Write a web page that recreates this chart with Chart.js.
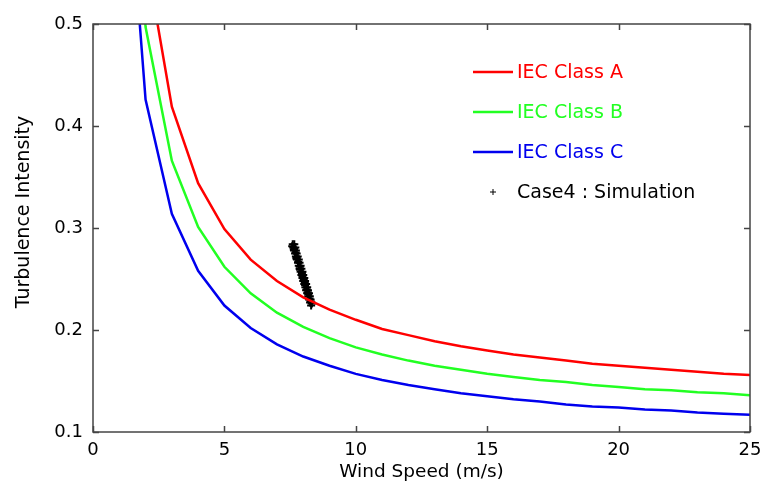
<!DOCTYPE html>
<html>
<head>
<meta charset="utf-8">
<script src="https://cdn.jsdelivr.net/npm/chart.js@4.4.1/dist/chart.umd.min.js"></script>
<style>
html,body{margin:0;padding:0;background:#fff;}
#wrap{width:763px;height:489px;position:relative;}
</style>
</head>
<body>
<div id="wrap"><canvas id="c" width="763" height="489"></canvas></div>
<script>
// Wind speeds (m/s)
const windSpeed = [1,2,3,4,5,6,7,8,9,10,11,12,13,14,15,16,17,18,19,20,21,22,23,24,25];
// Turbulence intensity per IEC class
const classA = [1.016,0.568,0.419,0.344,0.299,0.269,0.248,0.232,0.220,0.210,0.201,0.195,0.189,0.184,0.180,0.176,0.173,0.170,0.167,0.165,0.163,0.161,0.159,0.157,0.156];
const classB = [0.889,0.497,0.366,0.301,0.262,0.236,0.217,0.203,0.192,0.183,0.176,0.170,0.165,0.161,0.157,0.154,0.151,0.149,0.146,0.144,0.142,0.141,0.139,0.138,0.136];
const classC = [0.762,0.426,0.314,0.258,0.224,0.202,0.186,0.174,0.165,0.157,0.151,0.146,0.142,0.138,0.135,0.132,0.130,0.127,0.125,0.124,0.122,0.121,0.119,0.118,0.117];
// Simulation points (wind speed, turbulence intensity)
const simSpeed = [7.60,7.66,7.62,7.70,7.66,7.65,7.72,7.69,7.75,7.72,7.79,7.75,7.76,7.83,7.80,7.86,7.83,7.90,7.87,7.86,7.93,7.90,7.97,7.93,8.00,7.97,7.97,8.04,8.00,8.07,8.04,8.11,8.07,8.08,8.15,8.11,8.18,8.15,8.22,8.19,8.19,8.25,8.22,8.28,8.26,8.31,8.30,7.64,7.74,7.88,8.02,8.13,8.24,7.58,7.71,7.81,7.95,8.06,8.17,8.28,8.33];
const simTI    = [0.284,0.284,0.281,0.281,0.280,0.278,0.278,0.275,0.275,0.272,0.272,0.271,0.269,0.269,0.266,0.266,0.263,0.263,0.262,0.260,0.260,0.257,0.257,0.254,0.254,0.253,0.251,0.251,0.248,0.248,0.245,0.245,0.244,0.242,0.242,0.239,0.239,0.236,0.236,0.235,0.233,0.233,0.230,0.230,0.227,0.227,0.224,0.279,0.270,0.259,0.249,0.240,0.231,0.282,0.276,0.267,0.256,0.246,0.237,0.228,0.226];
// Axis labels
const xTitle = 'Wind Speed (m/s)';
const yTitle = 'Turbulence Intensity';
const seriesNames = ['IEC Class A','IEC Class B','IEC Class C','Case4 : Simulation'];

const FONT = '"DejaVu Sans", Verdana, sans-serif';
const FS = 18;

const curve = (vals) => windSpeed.map((v,i)=>({x:v,y:vals[i]}));
const sim = simSpeed.map((v,i)=>({x:v,y:simTI[i]}));

const framePlugin = {
  id:'frame',
  afterDatasetsDraw(chart){
    const {ctx, chartArea:a, scales:{x,y}} = chart;
    ctx.save();
    ctx.strokeStyle = '#444';
    ctx.lineWidth = 1.5;
    ctx.strokeRect(a.left, a.top, a.right-a.left, a.bottom-a.top);
    const L = 6;
    x.ticks.forEach(t=>{
      const px = Math.round(x.getPixelForValue(t.value))+0.5;
      ctx.beginPath();
      ctx.moveTo(px,a.bottom); ctx.lineTo(px,a.bottom-L);
      ctx.moveTo(px,a.top); ctx.lineTo(px,a.top+L);
      ctx.stroke();
    });
    y.ticks.forEach(t=>{
      const py = Math.round(y.getPixelForValue(t.value))+0.5;
      ctx.beginPath();
      ctx.moveTo(a.left,py); ctx.lineTo(a.left+L,py);
      ctx.moveTo(a.right,py); ctx.lineTo(a.right-L,py);
      ctx.stroke();
    });
    // y axis title
    ctx.save();
    ctx.translate(24, 212);
    ctx.rotate(-Math.PI/2);
    ctx.font = '19px ' + FONT;
    ctx.fillStyle = '#000';
    ctx.textAlign = 'center';
    ctx.textBaseline = 'middle';
    ctx.fillText(yTitle, 0, 0);
    ctx.restore();
    // legend
    const ds = chart.data.datasets;
    const rows = [72,112,152,192];
    ctx.font = '19px ' + FONT;
    ctx.textBaseline = 'middle';
    ctx.textAlign = 'left';
    ds.forEach((d,i)=>{
      const yy = rows[i];
      if (i < 3) {
        ctx.strokeStyle = d.borderColor;
        ctx.lineWidth = 2.5;
        ctx.beginPath(); ctx.moveTo(473,yy); ctx.lineTo(513,yy); ctx.stroke();
        ctx.fillStyle = d.borderColor;
      } else {
        ctx.strokeStyle = '#000';
        ctx.lineWidth = 1;
        ctx.beginPath();
        ctx.moveTo(490,yy); ctx.lineTo(496,yy);
        ctx.moveTo(493,yy-3); ctx.lineTo(493,yy+3);
        ctx.stroke();
        ctx.fillStyle = '#000';
      }
      ctx.fillText(d.label, 517, yy+1);
    });
    ctx.restore();
  }
};

new Chart(document.getElementById('c'), {
  type:'line',
  data:{
    datasets:[
      {label:seriesNames[0], data:curve(classA), borderColor:'#ff0000', borderWidth:2.5, pointRadius:0, fill:false, tension:0, clip:0},
      {label:seriesNames[1], data:curve(classB), borderColor:'#22ff22', borderWidth:2.5, pointRadius:0, fill:false, tension:0, clip:0},
      {label:seriesNames[2], data:curve(classC), borderColor:'#0000ee', borderWidth:2.5, pointRadius:0, fill:false, tension:0, clip:0},
      {label:seriesNames[3], data:sim, showLine:false, pointStyle:'cross', pointRadius:4, borderColor:'#000', backgroundColor:'#000', pointBorderWidth:2, clip:0}
    ]
  },
  plugins:[framePlugin],
  options:{
    responsive:false,
    animation:false,
    devicePixelRatio:1,
    layout:{padding:{top:24,right:13,left:0,bottom:0}},
    plugins:{legend:{display:false}, tooltip:{enabled:false}},
    scales:{
      x:{type:'linear', min:0, max:25,
         ticks:{stepSize:5, color:'#000', font:{family:FONT,size:FS}, padding:8, maxRotation:0},
         grid:{display:false, drawTicks:false}, border:{display:false},
         title:{display:true, text:xTitle, color:'#000', font:{family:FONT,size:18.5}, padding:{top:2,bottom:6}},
         afterFit(s){ s.height = 57; s.paddingLeft = 0; s.paddingRight = 0; }
      },
      y:{type:'linear', min:0.1, max:0.5,
         ticks:{stepSize:0.1, color:'#000', font:{family:FONT,size:FS}, padding:10,
                callback:v=>v.toFixed(1)},
         grid:{display:false, drawTicks:false}, border:{display:false},
         title:{display:false},
         afterFit(s){ s.width = 93; s.paddingTop = 0; s.paddingBottom = 0; }
      }
    }
  }
});
</script>
</body>
</html>
